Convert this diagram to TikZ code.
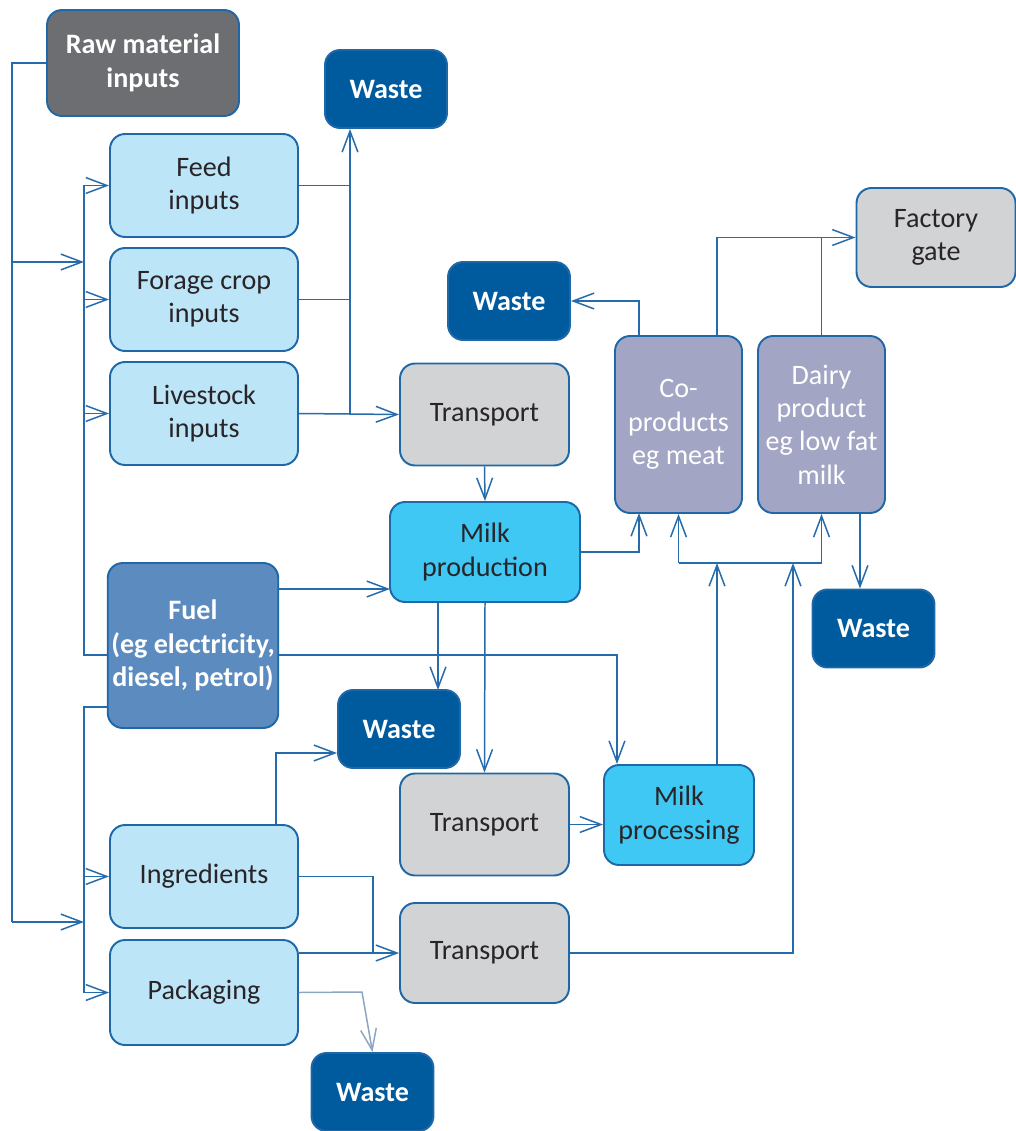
\documentclass[tikz,border=0pt]{standalone}
\usepackage{fontspec}
\setmainfont{Carlito}
\usetikzlibrary{arrows.meta, calc}

\definecolor{edgeblue}{RGB}{31,104,168}
\definecolor{lineblue}{RGB}{38,108,172}
\definecolor{rawgrey}{RGB}{109,110,113}
\definecolor{wasteblue}{RGB}{0,91,158}
\definecolor{inputblue}{RGB}{189,229,248}
\definecolor{transgrey}{RGB}{209,211,212}
\definecolor{prodpurple}{RGB}{163,165,196}
\definecolor{milkcyan}{RGB}{64,200,244}
\definecolor{fuelblue}{RGB}{91,139,191}
\definecolor{packline}{RGB}{140,165,195}
\definecolor{textdark}{RGB}{40,36,40}

\begin{document}
\begin{tikzpicture}[
    x=0.02cm, y=-0.02cm,
    font=\fontsize{16}{19}\selectfont,
    box/.style={
        draw=edgeblue, line width=1.1pt,
        rounded corners=0.3cm, align=center,
        text=textdark, inner sep=2pt
    },
    input_box/.style={box, fill=inputblue,
        minimum width=3.76cm, minimum height=2.06cm},
    trans_box/.style={box, fill=transgrey,
        minimum width=3.38cm, minimum height=2.04cm},
    waste_box/.style={box, fill=wasteblue, text=white,
        font=\fontsize{16}{19}\selectfont\bfseries,
        minimum width=2.44cm, minimum height=1.56cm},
    milk_box/.style={box, fill=milkcyan, minimum height=2.0cm},
    prod_box/.style={box, fill=prodpurple, text=white,
        minimum width=2.54cm, minimum height=3.54cm},
    link/.style={draw=lineblue, line width=0.85pt},
    arr/.style={link,
        -{Straight Barb[length=12pt, width=9pt, line width=0.85pt]}},
    pack_arr/.style={arr, draw=packline}
]
\useasboundingbox (0,0) rectangle (1016,1131);

%% ── Nodes ──────────────────────────────
\node[box, fill=rawgrey, text=white, font=\fontsize{16}{19}\selectfont\bfseries,
    minimum width=3.84cm, minimum height=2.12cm] (raw) at (143,63)
    {Raw material\\inputs};
\node[waste_box] (wasteA) at (386,89) {Waste};

\node[input_box] (feed) at (204,185.5) {Feed\\inputs};
\node[input_box] (forage) at (204,299.5) {Forage crop\\inputs};
\node[input_box] (livestock) at (204,413.5) {Livestock\\inputs};

\node[trans_box] (transA) at (484.5,414.5) {Transport};
\node[waste_box] (wasteB) at (509,301) {Waste};

\node[box, fill=transgrey, minimum width=3.18cm, minimum height=1.98cm]
    (gate) at (936,237.5) {Factory\\gate};
\node[prod_box] (coprod) at (678.5,424.5) {Co-\\products\\eg meat};
\node[prod_box] (dairy) at (821.5,424.5) {Dairy\\product\\eg low fat\\milk};

\node[milk_box, minimum width=3.8cm] (milkprod) at (485,552) {Milk\\production};
\node[waste_box] (wasteC) at (873.5,628.5) {Waste};

\node[box, fill=fuelblue, text=white, font=\fontsize{16}{19}\selectfont\bfseries,
    minimum width=3.32cm, minimum height=3.3cm] (fuel) at (193,645.5)
    {Fuel\\(eg electricity,\\diesel, petrol)};
\node[waste_box] (wasteD) at (399,729) {Waste};

\node[trans_box] (transB) at (484.5,824.5) {Transport};
\node[milk_box, minimum width=3.0cm] (milkproc) at (679,815) {Milk\\processing};

\node[input_box] (ingr) at (204,876.5) {Ingredients};
\node[input_box, minimum height=2.1cm] (pack) at (204,992.5) {Packaging};
\node[trans_box, minimum height=2.0cm] (transC) at (484.5,953) {Transport};
\node[waste_box] (wasteE) at (372.5,1092) {Waste};

%% ── Bends ──────────────────────────────
\coordinate (oa) at (12,262);
\coordinate (ob) at (12,922);
\coordinate (ia) at (84,262);
\coordinate (ib) at (84,922);
\coordinate (fa) at (84,655);
\coordinate (fb) at (84,707);
\coordinate (wa) at (350,413.5);
\coordinate (pin) at (617,655);
\coordinate (fm) at (390,589);
\coordinate (cp) at (639,513);
\coordinate (mw) at (438,690);
\coordinate (hj) at (717,563);
\coordinate (hl) at (678.5,563);
\coordinate (hr) at (821.5,563);
\coordinate (tc) at (793,563);
\coordinate (cw) at (639,301);
\coordinate (fg) at (717,237.5);
\coordinate (dw) at (860,0);
\coordinate (iw) at (276,753);
\coordinate (it) at (373,953);
\coordinate (pk) at (362,992);

%% ── Raw material buses ─────────────────
\draw[link] (raw.west) -| (ob);
\draw[arr] (oa) -- (ia);
\draw[arr] (ob) -- (ib);

\draw[link] (feed.west -| fa) -- (fa) -- (fa -| fuel.west);
\foreach \n in {feed, forage, livestock}{
    \draw[arr] (\n.west -| fa) -- (\n.west);
}
\draw[link] (fb -| fuel.west) -- (fb) -- (fb |- pack.west);
\foreach \n in {ingr, pack}{
    \draw[arr] (\n.west -| fb) -- (\n.west);
}

%% ── Farm side ──────────────────────────
\draw[link] (feed.east) -- (feed.east -| wa);
\draw[link] (forage.east) -- (forage.east -| wa);
\draw[arr] (livestock.east) -- (transA.west);
\draw[arr] (wa) -- (wa |- wasteA.south);
\draw[arr] (transA.south) -- (milkprod.north);
\draw[arr] (fm -| fuel.east) -- (fm);
\draw[arr] (fa -| fuel.east) -- (pin) -- (pin |- milkproc.north);

%% ── Milk production ────────────────────
\draw[arr] (milkprod.east) -| (cp);
\draw[arr] (mw |- milkprod.south) -- (mw);
\draw[arr] (milkprod.south) -- (transB.north);
\draw[arr] (transB.east) -- (transB.east -| milkproc.west);

%% ── Processing to products ─────────────
\draw[arr] (hj |- milkproc.north) -- (hj);
\draw[link] (hl) -- (hr);
\draw[arr] (hl) -- (coprod.south);
\draw[arr] (hr) -- (dairy.south);
\draw[arr] (transC.east) -| (tc);

%% ── Products out ───────────────────────
\draw[arr] (cw |- coprod.north) -- (cw) -- (wasteB.east);
\draw[arr] (fg |- coprod.north) -- (fg) -- (gate.west);
\draw[link] (dairy.north) -- (dairy.north |- gate.west);
\draw[arr] (dw |- dairy.south) -- (dw |- wasteC.north);

%% ── Ingredients and packaging ──────────
\draw[arr] (iw |- ingr.north) -- (iw) -- (iw -| wasteD.west);
\draw[link] (ingr.east) -| (it);
\draw[arr] (it -| pack.east) -- (transC.west);
\draw[pack_arr] (pack.east) -- (pk) -- (wasteE.north);

\end{tikzpicture}
\end{document}
